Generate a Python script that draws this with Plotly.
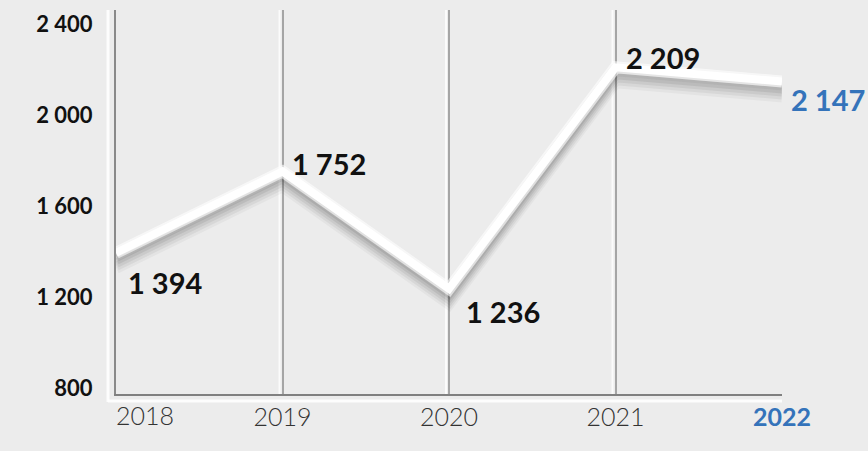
import plotly.graph_objects as go

# Data
years = ["2018", "2019", "2020", "2021", "2022"]
values = [1394, 1752, 1236, 2209, 2147]
value_labels = ["1 394", "1 752", "1 236", "2 209", "2 147"]
y_ticks = [800, 1200, 1600, 2000, 2400]
y_tick_labels = ["800", "1 200", "1 600", "2 000", "2 400"]

BG = "#ececec"
BLUE = "#3473ba"
W, H = 868, 451
M_L, M_R, M_T, M_B = 116, 86, 10, 57
Y_LO, Y_HI = 774, 2461
plot_w = W - M_L - M_R
plot_h = H - M_T - M_B
units_per_px = (Y_HI - Y_LO) / plot_h

fig = go.Figure()

# soft drop shadow: same series drawn on hidden overlay axes whose range is
# shifted so that the line lands a few pixels lower
shadow_offsets = [15, 12, 9, 6, 3]
shadow_alpha = [0.035, 0.05, 0.06, 0.07, 0.08]
for i, (d, a) in enumerate(zip(shadow_offsets, shadow_alpha)):
    ax = f"y{i + 2}"
    fig.add_trace(go.Scatter(
        x=years, y=values, yaxis=ax, mode="lines",
        line=dict(color=f"rgba(0,0,0,{a})", width=12),
        hoverinfo="skip", showlegend=False,
    ))
    fig.layout[f"yaxis{i + 2}"] = dict(
        overlaying="y", visible=False, fixedrange=True,
        range=[Y_LO + d * units_per_px, Y_HI + d * units_per_px],
    )

# main white line on its own overlays so it is drawn above the shadow
main_ax = len(shadow_offsets) + 2
fig.add_trace(go.Scatter(
    x=years, y=values, yaxis=f"y{main_ax}", mode="lines",
    line=dict(color="rgba(255,255,255,0.6)", width=12),
    hoverinfo="skip", showlegend=False,
))
main_ax2 = main_ax + 1
fig.add_trace(go.Scatter(
    x=years, y=values, yaxis=f"y{main_ax2}", mode="lines",
    line=dict(color="#ffffff", width=8),
    hoverinfo="skip", showlegend=False,
))
for k in (main_ax, main_ax2):
    fig.layout[f"yaxis{k}"] = dict(overlaying="y", visible=False,
                                   range=[Y_LO, Y_HI], fixedrange=True)

# value labels, placed beside each point
label_pos = [  # (xshift, yshift) in pixels
    (10, -30), (7, 8), (15, -23), (8, 10), (7, -18),
]
annotations = []
for i, (yr, v, txt) in enumerate(zip(years, values, value_labels)):
    xs, ys = label_pos[i]
    annotations.append(dict(
        x=i, y=v, xref="x", yref="y", text=f"<b>{txt}</b>", showarrow=False,
        xanchor="left", yanchor="middle", xshift=xs, yshift=ys,
        font=dict(family="Lato", size=29,
                  color=BLUE if i == len(years) - 1 else "#111111"),
    ))

# first year label sits right of its tick, clear of the y labels
annotations.append(dict(
    x=0, y=0, xref="x", yref="paper", text=years[0], showarrow=False,
    xanchor="left", yanchor="top", xshift=-2, yshift=-4,
    font=dict(family="Lato", size=25, color="#333333", weight=300),
))

# light bevel lines beside the grid and axes
n = len(years)
shapes = []
for i in range(1, n - 1):
    xp = i / (n - 1) - 3 / plot_w
    shapes.append(dict(type="line", xref="paper", x0=xp, x1=xp,
                       yref="paper", y0=0, y1=1, layer="below",
                       line=dict(color="rgba(255,255,255,0.8)", width=2)))
xp = -8 / plot_w
shapes.append(dict(type="line", xref="paper", x0=xp, x1=xp,
                   yref="paper", y0=-8 / plot_h, y1=1, layer="below",
                   line=dict(color="rgba(255,255,255,0.9)", width=3)))
yp = -7 / plot_h
shapes.append(dict(type="line", xref="paper", x0=-8 / plot_w, x1=1.0,
                   yref="paper", y0=yp, y1=yp, layer="below",
                   line=dict(color="rgba(255,255,255,0.9)", width=3)))

x_tick_text = [""] + [y if i < n - 1 else
                      f"<b><span style='color:{BLUE}'>{y}</span></b>"
                      for i, y in enumerate(years) if i > 0]

fig.update_layout(
    width=W, height=H,
    margin=dict(l=M_L, r=M_R, t=M_T, b=M_B),
    paper_bgcolor=BG, plot_bgcolor=BG,
    showlegend=False,
    shapes=shapes,
    annotations=annotations,
    xaxis=dict(
        type="category", range=[0, n - 1],
        tickvals=years, ticktext=x_tick_text,
        showgrid=True, gridcolor="#a5a5a5", gridwidth=2,
        showline=True, linecolor="#808080", linewidth=2,
        ticks="", ticklabelstandoff=0,
        tickfont=dict(family="Lato", size=25, color="#333333", weight=300),
        fixedrange=True, zeroline=False,
    ),
    yaxis=dict(
        range=[Y_LO, Y_HI], tickvals=y_ticks, ticktext=y_tick_labels,
        showgrid=False, zeroline=False,
        showline=True, linecolor="#8a8a8a", linewidth=2,
        ticks="", ticklabelstandoff=17,
        tickfont=dict(family="Lato", size=22, color="#111111", weight=700),
        fixedrange=True,
    ),
)

fig.write_html("out.html", config={"displayModeBar": False})
